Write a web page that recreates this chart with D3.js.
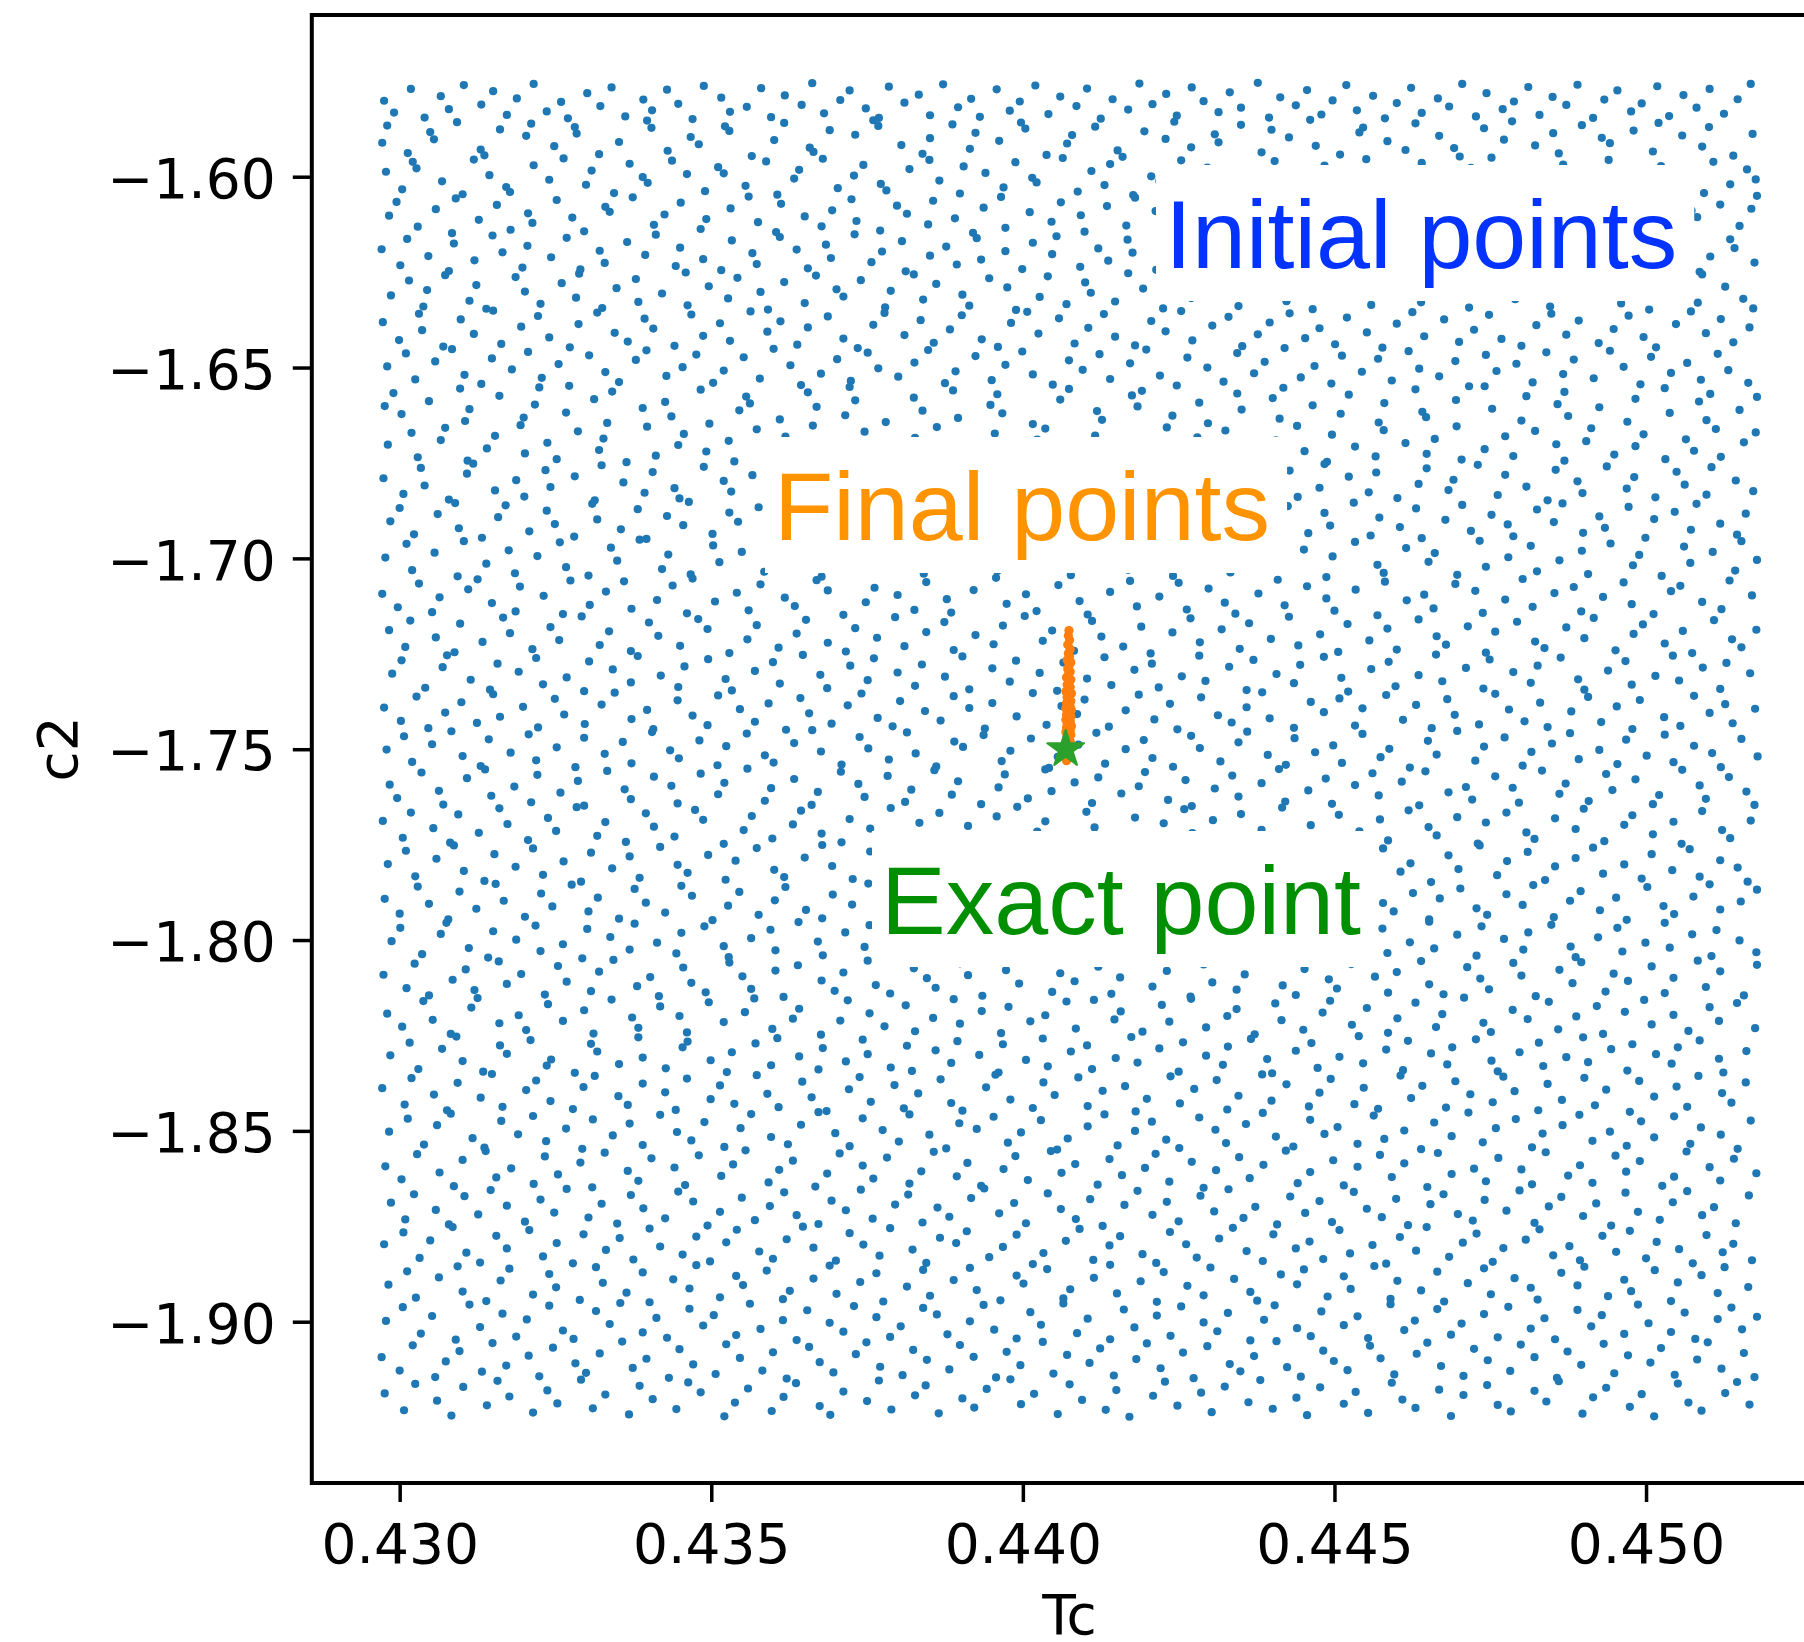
<!DOCTYPE html>
<html>
<head>
<meta charset="utf-8">
<script src="https://cdn.jsdelivr.net/npm/d3@7"></script>
<style>
  html, body { margin: 0; padding: 0; background: #fff; }
  svg { display: block; overflow: hidden; }
</style>
</head>
<body>
<svg id="chart" width="1804" height="1642"></svg>
<script>
// Axis ticks and limits
const tcTicks = [0.430, 0.435, 0.440, 0.445, 0.450];
const c2Ticks = [-1.60, -1.65, -1.70, -1.75, -1.80, -1.85, -1.90];
const tcLimits = [0.42859, 0.45291];
const c2Limits = [-1.55763, -1.94226];

// Reference (exact) parameter values
const exactPoint = { tc: 0.440687, c2: -1.75 };

// Annotation labels, anchored in data coordinates (left edge, baseline)
const labelTexts = ["Initial points", "Final points", "Exact point"];
const labelTc = [0.442281, 0.436007, 0.437724];
const labelC2 = [-1.623919, -1.695185, -1.798416];
const labelColors = ["#0433ff", "#ff9300", "#008f00"];

// Initial sample, flat pairs: Tc in units of 1e-5, |c2| in units of 1e-4
const initialPairs = [
42975,15801,42991,15832,43018,15770,43040,15845,43066,15789,43079,15823,43103,15760,43131,15811,43150,15776,43172,15838,43188,15795,43215,15757,43236,15829,43259,15804,43270,15847,43301,15781,43322,15815,43340,15766,43362,15842,43391,15798,43405,15826,43429,15772,43447,15809,43470,15849,43488,15762,43516,15793,43530,15830,43557,15817,43580,15768,43596,15844,43618,15787,43645,15812,43662,15755,43681,15834,43707,15799,43722,15774,43748,15821,43769,15846,43785,15764,43810,15806,43833,15785,43851,15839,43872,15758,43896,15818,43917,15796,43931,15843,43958,15771,43979,15827,43995,15803,44020,15761,44041,15836,44060,15790,44086,15815,44103,15769,44125,15848,44144,15797,44169,15824,44187,15756,44208,15810,44230,15783,44247,15840,44271,15766,44290,15802,44314,15831,44332,15779,44350,15819,44377,15754,44395,15845,44413,15792,44438,15813,44456,15773,44479,15837,44497,15800,44519,15760,44536,15826,44562,15788,44581,15847,44600,15807,44623,15767,44640,15833,44666,15795,44684,15816,44705,15757,44727,15842,44744,15781,44770,15823,44788,15803,44811,15765,44829,15838,44850,15791,44872,15812,44890,15759,44915,15846,44933,15798,44954,15774,44976,15829,44993,15808,45018,15763,45037,15841,45060,15786,45081,15819,45102,15770,45125,15835,45147,15797,45168,15757,
42972,15911,42980,15866,43013,15938,43049,15883,43055,15902,43092,15857,43130,15929,43136,15944,43161,15876,43203,15893,43211,15861,43248,15920,43281,15870,43284,15887,43320,15941,43352,15909,43397,15853,43404,15872,43430,15932,43467,15896,43480,15915,43522,15868,43529,15880,43565,15946,43601,15904,43617,15859,43658,15924,43664,15935,43690,15878,43731,15890,43760,15852,43768,15867,43805,15917,43839,15940,43851,15899,43887,15863,43915,15927,43924,15885,43962,15906,43997,15858,44004,15874,44038,15943,44071,15913,44079,15891,44116,15869,44152,15931,44160,15948,44195,15881,44229,15901,44243,15856,44270,15923,44308,15889,44314,15910,44350,15864,44383,15936,44399,15877,44427,15897,44461,15851,44470,15919,44509,15942,44540,15884,44546,15871,44585,15907,44614,15930,44630,15860,44668,15893,44692,15925,44701,15947,44740,15873,44772,15903,44785,15855,44822,15918,44851,15886,44860,15939,44897,15865,44929,15898,44942,15912,44980,15879,45011,15934,45020,15859,45058,15892,45090,15921,45101,15870,45140,15945,45171,15888,
42978,15987,43004,16033,43021,15961,43027,15978,43068,16012,43101,16046,43119,15955,43144,15996,43171,16027,43177,16040,43215,15970,43240,16008,43263,15952,43299,16021,43308,15984,43344,16043,43369,15966,43390,16001,43398,16016,43437,15958,43461,15993,43490,16038,43511,15975,43520,15991,43555,16024,43588,15960,43606,16047,43633,16005,43641,15982,43679,15953,43703,16030,43729,15997,43744,15969,43772,16019,43781,16036,43818,15980,43850,15956,43866,16010,43899,16044,43905,15973,43940,15990,43969,16028,43988,15962,44015,16003,44022,16015,44064,15951,44088,16039,44110,15985,44131,16022,44140,15967,44177,16048,44206,15999,44219,16011,44254,15957,44281,16034,44296,15976,44330,16006,44336,15989,44375,16025,44404,15959,44421,16042,44449,15994,44476,16014,44484,15971,44522,16037,44551,15954,44569,16002,44596,15983,44603,16029,44640,15964,44671,16045,44688,16009,44719,15977,44743,16032,44752,15950,44789,16018,44818,15992,44836,16041,44867,15968,44873,16004,44911,16026,44940,15956,44958,15988,44987,16035,45016,16013,45024,15972,45062,15998,45093,16043,45108,15961,45135,16020,45162,15981,45176,16007,
42983,16102,42995,16066,43029,16131,43058,16085,43084,16148,43090,16057,43127,16113,43156,16074,43178,16139,43206,16096,43213,16121,43252,16061,43277,16107,43296,16143,43330,16079,43337,16092,43374,16054,43408,16126,43425,16099,43451,16068,43483,16137,43492,16111,43531,16083,43560,16052,43575,16119,43604,16145,43612,16071,43650,16104,43677,16130,43694,16088,43725,16059,43733,16116,43771,16141,43798,16076,43814,16097,43848,16125,43856,16063,43891,16109,43920,16147,43937,16081,43965,16053,43972,16134,44011,16093,44046,16118,44061,16067,44093,16101,44099,16144,44135,16077,44166,16128,44180,16055,44213,16090,44221,16112,44262,16138,44287,16072,44300,16105,44339,16133,44346,16058,44385,16087,44411,16123,44428,16146,44462,16070,44467,16095,44505,16115,44534,16051,44555,16082,44578,16136,44589,16108,44626,16064,44655,16127,44673,16091,44706,16149,44713,16075,44750,16103,44781,16056,44799,16120,44828,16086,44835,16140,44873,16069,44905,16110,44921,16132,44952,16078,44959,16094,44997,16124,45031,16060,45044,16142,45073,16089,45082,16106,45119,16073,45150,16129,45169,16084,45178,16050,
42971,16190,43001,16232,43012,16163,43046,16208,43079,16247,43087,16175,43120,16219,43149,16154,43165,16198,43197,16238,43205,16181,43243,16211,43268,16160,43290,16243,43321,16194,43329,16226,43365,16171,43394,16205,43411,16152,43443,16234,43450,16186,43487,16216,43516,16245,43533,16167,43566,16200,43573,16229,43610,16158,43637,16191,43655,16240,43684,16178,43692,16213,43730,16151,43757,16224,43774,16196,43806,16169,43812,16248,43851,16207,43877,16183,43894,16230,43926,16161,43933,16217,43972,16195,43999,16242,44016,16173,44047,16203,44054,16156,44092,16236,44121,16188,44137,16220,44168,16165,44176,16199,44214,16244,44240,16176,44258,16210,44289,16155,44297,16233,44335,16192,44363,16221,44379,16170,44410,16246,44417,16202,44455,16159,44483,16227,44500,16185,44531,16214,44538,16239,44577,16166,44603,16197,44620,16231,44652,16153,44659,16180,44697,16218,44724,16241,44741,16174,44772,16206,44780,16162,44818,16228,44845,16189,44862,16245,44893,16157,44900,16212,44938,16193,44966,16235,44983,16168,45014,16201,45021,16223,45060,16179,45086,16249,45103,16209,45135,16164,45142,16187,45174,16225,
42986,16311,43015,16272,43038,16340,43044,16297,43073,16258,43112,16325,43123,16284,43139,16346,43186,16263,43201,16301,43226,16333,43260,16279,43283,16317,43288,16254,43325,16344,43348,16292,43379,16268,43383,16328,43421,16306,43459,16251,43462,16337,43496,16287,43527,16319,43542,16265,43579,16302,43591,16348,43617,16276,43650,16331,43668,16259,43701,16295,43712,16314,43740,16271,43779,16342,43788,16299,43825,16256,43840,16322,43861,16281,43903,16309,43914,16338,43946,16266,43975,16290,43989,16349,44027,16315,44040,16261,44070,16334,44100,16277,44109,16304,44148,16327,44169,16253,44193,16293,44225,16345,44231,16270,44270,16318,44296,16286,44318,16252,44346,16339,44352,16307,44391,16273,44423,16326,44437,16296,44465,16347,44477,16260,44513,16312,44544,16283,44559,16336,44590,16267,44600,16300,44639,16329,44663,16257,44681,16291,44716,16343,44722,16310,44761,16274,44790,16321,44806,16255,44838,16298,44846,16340,44883,16280,44914,16313,44928,16264,44960,16332,44968,16294,45005,16348,45036,16269,45051,16305,45083,16330,45090,16256,45127,16288,45156,16320,45172,16345,
42973,16381,42999,16428,43031,16359,43036,16402,43070,16445,43098,16374,43119,16412,43150,16351,43163,16438,43195,16393,43222,16365,43240,16421,43273,16447,43287,16386,43317,16356,43345,16409,43366,16432,43393,16372,43407,16398,43441,16443,43468,16361,43487,16417,43514,16384,43530,16430,43563,16353,43590,16406,43611,16379,43638,16440,43655,16395,43687,16366,43712,16424,43735,16449,43760,16388,43778,16357,43810,16415,43836,16376,43857,16435,43883,16400,43902,16363,43934,16426,43960,16446,43981,16383,44007,16354,44025,16411,44058,16371,44083,16437,44105,16396,44130,16360,44148,16419,44180,16442,44206,16378,44229,16405,44254,16352,44272,16429,44304,16390,44330,16367,44352,16444,44377,16413,44396,16382,44428,16358,44453,16423,44476,16397,44501,16439,44520,16369,44552,16408,44577,16448,44600,16385,44625,16355,44644,16418,44676,16374,44700,16433,44724,16401,44748,16362,44768,16425,44800,16443,44824,16389,44848,16359,44872,16414,44892,16377,44924,16436,44948,16399,44972,16364,44996,16420,45016,16447,45048,16386,45072,16353,45096,16410,45120,16373,45140,16434,45166,16395,
42980,16497,43010,16463,43025,16531,43057,16484,43084,16452,43104,16519,43131,16543,43148,16476,43180,16505,43206,16459,43228,16527,43255,16491,43272,16548,43304,16468,43330,16512,43352,16538,43379,16480,43396,16455,43428,16522,43454,16499,43476,16466,43503,16540,43520,16508,43552,16473,43578,16529,43600,16451,43627,16494,43644,16546,43676,16516,43702,16478,43724,16535,43751,16461,43768,16502,43800,16524,43826,16487,43848,16454,43875,16541,43892,16510,43924,16470,43950,16533,43972,16493,43999,16458,44016,16518,44048,16545,44074,16481,44096,16506,44123,16465,44140,16530,44172,16489,44198,16453,44220,16521,44247,16547,44264,16474,44296,16500,44322,16537,44344,16462,44371,16515,44388,16485,44420,16449,44446,16526,44468,16496,44495,16542,44512,16469,44544,16511,44570,16477,44592,16534,44619,16457,44636,16503,44668,16523,44694,16483,44716,16549,44743,16467,44760,16509,44792,16490,44818,16539,44840,16460,44867,16517,44884,16479,44916,16528,44942,16456,44964,16498,44991,16544,45008,16472,45040,16514,45066,16488,45088,16532,45115,16464,45132,16507,45164,16540,
42976,16601,42990,16567,43003,16622,43047,16588,43097,16555,43105,16640,43112,16609,43160,16574,43199,16631,43217,16597,43224,16552,43267,16618,43312,16583,43333,16645,43341,16563,43390,16606,43426,16590,43436,16628,43483,16558,43497,16647,43545,16612,43556,16576,43562,16594,43610,16636,43655,16565,43669,16603,43715,16625,43722,16551,43731,16586,43780,16643,43825,16579,43839,16613,43888,16560,43896,16632,43948,16598,43959,16570,43967,16620,44016,16648,44060,16584,44074,16556,44119,16614,44127,16637,44175,16573,44184,16602,44191,16561,44240,16626,44283,16592,44297,16646,44344,16568,44351,16610,44401,16580,44412,16634,44418,16553,44465,16599,44510,16621,44523,16571,44571,16644,44580,16593,44630,16557,44641,16616,44647,16630,44695,16585,44741,16549,44753,16608,44800,16639,44808,16575,44858,16596,44869,16564,44875,16627,44925,16604,44970,16642,44983,16582,45030,16554,45038,16619,45085,16589,45097,16638,45103,16569,45150,16611,45178,16577,
42981,16702,43019,16671,43029,16735,43066,16690,43073,16658,43109,16744,43140,16712,43153,16679,43194,16651,43201,16725,43237,16697,43252,16740,43286,16667,43320,16716,43327,16686,43364,16748,43397,16655,43411,16731,43447,16703,43456,16674,43492,16720,43528,16692,43537,16746,43573,16662,43606,16709,43619,16681,43654,16738,43663,16652,43700,16723,43733,16695,43746,16668,43782,16742,43815,16711,43827,16684,43862,16656,43870,16729,43907,16700,43942,16745,43955,16673,43990,16717,44023,16689,44036,16660,44071,16736,44080,16706,44116,16678,44150,16749,44163,16694,44198,16722,44231,16657,44244,16713,44280,16683,44288,16739,44325,16665,44358,16704,44371,16730,44406,16691,44440,16653,44452,16719,44488,16747,44496,16676,44533,16707,44566,16733,44579,16664,44614,16698,44648,16726,44661,16687,44696,16654,44704,16741,44741,16714,44774,16680,44787,16732,44822,16666,44856,16701,44869,16744,44904,16693,44912,16659,44949,16728,44983,16706,44996,16675,45031,16740,45064,16688,45077,16718,45112,16661,45120,16734,45157,16696,45176,16670,
42974,16790,43006,16831,43034,16763,43040,16809,43079,16846,43108,16778,43118,16752,43153,16822,43187,16795,43200,16838,43234,16769,43242,16813,43281,16785,43313,16848,43324,16756,43359,16801,43393,16828,43406,16774,43441,16816,43449,16843,43488,16760,43520,16797,43532,16825,43566,16782,43600,16751,43613,16835,43648,16806,43656,16771,43695,16819,43727,16844,43739,16788,43773,16758,43807,16830,43820,16799,43855,16767,43863,16841,43902,16811,43934,16779,43946,16826,43980,16754,44014,16803,44027,16847,44062,16784,44070,16818,44109,16765,44141,16836,44153,16793,44187,16757,44221,16823,44234,16776,44269,16808,44277,16845,44316,16789,44348,16762,44360,16832,44394,16800,44428,16770,44441,16839,44476,16815,44484,16753,44523,16786,44555,16827,44567,16775,44601,16842,44635,16805,44648,16764,44683,16821,44691,16794,44730,16755,44762,16834,44774,16781,44808,16812,44842,16848,44855,16768,44890,16798,44898,16829,44937,16759,44969,16817,44981,16787,45015,16840,45049,16773,45062,16807,45097,16833,45105,16761,45144,16796,45172,16824,
42985,16903,43000,16868,43023,16937,43061,16884,43089,16855,43095,16921,43132,16946,43158,16892,43170,16861,43208,16929,43236,16875,43249,16910,43280,16943,43309,16857,43317,16898,43355,16924,43382,16871,43396,16949,43429,16889,43455,16913,43464,16852,43502,16936,43529,16880,43543,16904,43576,16866,43602,16941,43611,16919,43649,16887,43676,16853,43690,16927,43723,16896,43749,16873,43758,16947,43796,16908,43823,16864,43837,16932,43870,16891,43896,16859,43905,16917,43943,16944,43970,16879,43984,16900,44017,16862,44043,16939,44052,16915,44090,16885,44117,16851,44131,16926,44164,16894,44190,16948,44199,16870,44237,16906,44264,16931,44278,16858,44311,16888,44337,16922,44346,16945,44384,16876,44411,16902,44425,16863,44458,16934,44484,16881,44493,16914,44531,16854,44558,16940,44572,16893,44605,16918,44631,16869,44640,16947,44678,16899,44705,16860,44719,16928,44752,16886,44778,16911,44787,16942,44825,16872,44852,16905,44866,16856,44899,16933,44925,16890,44934,16920,44972,16865,44999,16946,45013,16897,45046,16878,45072,16925,45081,16857,45119,16909,45146,16938,45160,16883,
42977,16998,43011,16962,43020,17031,43056,16985,43093,17047,43103,16955,43139,17014,43175,16979,43185,17039,43221,16994,43257,16958,43267,17023,43303,17045,43339,16972,43349,17006,43385,16951,43421,17028,43431,16990,43467,17042,43503,16966,43513,17010,43549,16983,43585,17035,43595,16953,43631,17019,43667,16996,43677,17048,43713,16970,43749,17003,43759,17026,43795,16959,43831,16988,43841,17040,43877,17012,43913,16964,43923,16981,43959,17033,43995,16999,44005,16956,44041,17021,44077,17044,44087,16975,44123,17008,44159,16952,44169,17030,44205,16992,44241,17046,44251,16968,44287,17015,44323,16984,44333,17037,44369,16960,44405,17002,44415,17025,44451,16977,44487,17049,44497,16995,44533,16957,44569,17017,44579,17038,44615,16973,44651,17009,44661,16986,44697,17043,44733,16954,44743,17022,44779,16997,44815,16967,44825,17034,44861,17005,44897,16980,44907,17041,44943,16961,44979,17018,44989,16991,45025,17046,45061,16969,45071,17012,45107,16983,45143,17032,45153,16955,45178,17004,
42972,17093,42997,17128,43031,17066,43052,17141,43064,17102,43110,17081,43125,17055,43148,17117,43186,17139,43193,17074,43231,17098,43262,17146,43274,17058,43305,17122,43331,17087,43360,17060,43372,17132,43413,17109,43438,17071,43461,17144,43470,17053,43506,17113,43541,17090,43560,17136,43579,17068,43618,17103,43634,17125,43669,17057,43687,17084,43712,17148,43748,17115,43762,17077,43799,17096,43826,17135,43845,17062,43878,17107,43885,17142,43921,17083,43957,17051,43974,17119,44005,17094,44022,17138,44057,17070,44091,17112,44104,17147,44140,17088,44172,17059,44183,17126,44219,17100,44250,17064,44263,17134,44298,17079,44324,17116,44341,17145,44378,17092,44409,17056,44420,17123,44456,17073,44487,17105,44500,17137,44534,17082,44569,17149,44581,17061,44616,17110,44644,17095,44659,17131,44694,17067,44726,17085,44738,17143,44774,17108,44802,17054,44818,17127,44853,17091,44884,17075,44896,17139,44931,17101,44964,17063,44977,17120,45012,17146,45040,17086,45055,17072,45090,17114,45121,17133,45134,17058,45170,17097,
42983,17188,43009,17232,43017,17163,43058,17207,43088,17246,43097,17171,43133,17219,43166,17155,43177,17196,43213,17238,43242,17180,43256,17214,43292,17152,43321,17227,43336,17191,43371,17243,43400,17168,43415,17203,43450,17229,43479,17159,43494,17185,43529,17248,43558,17212,43573,17175,43608,17234,43637,17197,43652,17161,43687,17221,43716,17244,43731,17183,43766,17208,43795,17154,43810,17230,43845,17193,43874,17167,43889,17240,43924,17201,43953,17225,43968,17176,44003,17151,44032,17216,44047,17189,44082,17242,44111,17164,44126,17205,44161,17231,44190,17179,44205,17249,44240,17194,44269,17157,44284,17220,44319,17186,44348,17237,44363,17170,44398,17211,44427,17153,44442,17228,44477,17199,44506,17245,44521,17172,44556,17215,44585,17184,44600,17239,44635,17160,44664,17204,44679,17226,44714,17178,44743,17247,44758,17192,44793,17166,44822,17218,44837,17235,44872,17181,44901,17209,44916,17156,44951,17241,44980,17198,44995,17173,45030,17223,45059,17190,45074,17248,45109,17162,45138,17212,45153,17233,45177,17187,
42988,17302,43003,17267,43041,17339,43069,17285,43076,17254,43114,17318,43145,17344,43157,17276,43191,17297,43219,17261,43230,17330,43268,17312,43296,17348,43304,17270,43342,17291,43371,17325,43382,17256,43419,17307,43447,17337,43457,17283,43495,17264,43523,17316,43533,17346,43570,17295,43599,17272,43610,17328,43647,17253,43675,17305,43686,17340,43723,17281,43751,17319,43761,17262,43799,17299,43827,17334,43838,17278,43875,17310,43903,17257,43914,17343,43951,17288,43979,17323,43989,17268,44027,17300,44055,17347,44065,17273,44103,17315,44131,17259,44142,17332,44179,17292,44207,17276,44218,17338,44255,17309,44283,17255,44293,17321,44331,17284,44359,17345,44370,17266,44407,17303,44435,17327,44445,17279,44483,17258,44511,17313,44522,17349,44559,17290,44587,17271,44598,17335,44635,17306,44663,17252,44673,17322,44711,17287,44739,17341,44749,17265,44787,17298,44815,17326,44826,17281,44863,17260,44891,17317,44901,17344,44939,17294,44967,17269,44977,17331,45015,17308,45043,17255,45053,17320,45091,17286,45119,17342,45129,17274,45167,17301,
42975,17391,43002,17426,43027,17362,43046,17445,43073,17404,43099,17377,43124,17431,43150,17356,43161,17415,43198,17389,43222,17443,43249,17368,43264,17409,43297,17434,43324,17383,43345,17352,43372,17421,43397,17397,43407,17447,43446,17372,43470,17412,43494,17437,43511,17359,43546,17395,43570,17428,43592,17380,43620,17449,43643,17366,43657,17406,43693,17433,43719,17385,43741,17354,43767,17418,43791,17440,43803,17374,43843,17400,43868,17425,43889,17361,43914,17392,43939,17446,43951,17379,43990,17414,44016,17353,44038,17436,44062,17387,44087,17408,44099,17370,44138,17441,44165,17398,44186,17357,44211,17422,44236,17381,44248,17448,44286,17364,44313,17411,44335,17430,44359,17390,44384,17351,44396,17419,44435,17444,44462,17376,44483,17403,44508,17367,44533,17438,44545,17393,44583,17358,44610,17423,44631,17384,44656,17445,44681,17369,44693,17410,44732,17435,44758,17355,44780,17396,44805,17427,44830,17378,44842,17442,44880,17401,44907,17363,44928,17429,44953,17388,44978,17447,44990,17371,45029,17416,45055,17439,45077,17360,45102,17405,45127,17382,45139,17432,45175,17394,
42979,17501,43007,17466,43020,17533,43052,17487,43083,17453,43101,17518,43130,17544,43143,17474,43178,17509,43207,17461,43219,17529,43252,17495,43282,17547,43296,17470,43329,17512,43358,17481,43372,17537,43405,17455,43434,17503,43448,17524,43481,17477,43510,17542,43524,17492,43557,17459,43586,17516,43600,17535,43633,17484,43662,17450,43676,17506,43709,17540,43738,17468,43752,17498,43785,17527,43814,17456,43828,17511,43861,17545,43890,17480,43904,17494,43937,17463,43966,17531,43980,17504,44013,17472,44042,17549,44056,17520,44089,17488,44118,17457,44132,17538,44165,17500,44194,17476,44208,17523,44241,17546,44270,17465,44284,17497,44317,17532,44346,17482,44360,17454,44393,17515,44422,17541,44436,17471,44469,17508,44498,17490,44512,17536,44545,17460,44574,17521,44588,17499,44621,17548,44650,17478,44664,17514,44697,17452,44726,17530,44740,17493,44773,17469,44802,17543,44816,17507,44849,17485,44878,17458,44892,17526,44925,17502,44954,17539,44968,17475,45001,17517,45030,17462,45044,17534,45077,17491,45106,17510,45120,17547,45153,17473,45179,17519,
42984,17593,42996,17628,43035,17561,43063,17609,43070,17645,43108,17576,43137,17553,43147,17622,43184,17598,43211,17639,43221,17567,43258,17614,43286,17583,43296,17648,43333,17557,43361,17605,43371,17631,43408,17572,43436,17596,43446,17642,43483,17564,43511,17618,43521,17588,43558,17551,43586,17635,43596,17602,43633,17578,43661,17646,43671,17612,43708,17559,43736,17591,43746,17625,43783,17570,43811,17638,43821,17606,43858,17555,43886,17619,43896,17584,43933,17644,43961,17600,43971,17566,44008,17629,44036,17553,44046,17610,44083,17587,44111,17641,44121,17574,44158,17616,44186,17597,44196,17560,44233,17633,44261,17581,44271,17649,44308,17603,44336,17569,44346,17624,44383,17589,44411,17552,44421,17637,44458,17608,44486,17577,44496,17643,44533,17594,44561,17563,44571,17621,44608,17585,44636,17647,44646,17558,44683,17613,44711,17599,44721,17632,44758,17571,44786,17601,44796,17640,44833,17556,44861,17617,44871,17590,44908,17636,44936,17565,44946,17607,44983,17579,45011,17644,45021,17620,45058,17554,45086,17595,45096,17630,45133,17573,45161,17611,45174,17646,
42973,17688,43005,17732,43018,17666,43054,17707,43081,17745,43094,17671,43127,17719,43160,17655,43173,17696,43206,17738,43238,17680,43251,17714,43284,17652,43317,17727,43330,17691,43363,17743,43395,17668,43408,17703,43441,17729,43474,17659,43487,17685,43520,17748,43552,17712,43565,17675,43598,17734,43631,17697,43644,17661,43677,17721,43709,17744,43722,17683,43755,17708,43788,17654,43801,17730,43834,17693,43866,17667,43879,17740,43912,17701,43945,17725,43958,17676,43991,17651,44023,17716,44036,17689,44069,17742,44102,17664,44115,17705,44148,17731,44180,17679,44193,17749,44226,17694,44259,17657,44272,17720,44305,17686,44337,17737,44350,17670,44383,17711,44416,17653,44429,17728,44462,17699,44494,17745,44507,17672,44540,17715,44573,17684,44586,17739,44619,17660,44651,17704,44664,17726,44697,17678,44730,17747,44743,17692,44776,17666,44808,17718,44821,17735,44854,17681,44887,17709,44900,17656,44933,17741,44965,17698,44978,17673,45011,17723,45044,17690,45057,17748,45090,17662,45122,17712,45135,17733,45168,17687,
42981,17801,43010,17766,43025,17833,43059,17787,43087,17752,43103,17819,43136,17845,43152,17775,43186,17808,43214,17760,43230,17829,43263,17794,43291,17847,43307,17771,43341,17812,43369,17781,43385,17837,43418,17756,43446,17803,43462,17824,43495,17777,43523,17842,43539,17792,43573,17759,43601,17816,43617,17835,43650,17784,43678,17751,43694,17806,43727,17840,43755,17768,43771,17798,43805,17827,43833,17755,43849,17811,43882,17846,43910,17780,43926,17794,43959,17763,43987,17831,44003,17804,44037,17772,44065,17849,44081,17820,44114,17788,44142,17757,44158,17838,44191,17800,44219,17776,44235,17823,44269,17846,44297,17765,44313,17797,44346,17832,44374,17782,44390,17754,44423,17815,44451,17841,44467,17771,44501,17808,44529,17790,44545,17836,44578,17760,44606,17821,44622,17799,44655,17848,44683,17778,44699,17814,44733,17752,44761,17830,44777,17793,44810,17769,44838,17843,44854,17807,44887,17785,44915,17758,44931,17826,44965,17802,44993,17839,45009,17775,45042,17817,45070,17762,45086,17834,45119,17791,45147,17810,45163,17847,
42976,17892,43000,17931,43029,17860,43047,17905,43078,17946,43096,17873,43123,17918,43154,17853,43167,17897,43201,17939,43227,17878,43245,17912,43276,17855,43303,17925,43318,17889,43352,17944,43377,17866,43395,17902,43426,17928,43452,17858,43469,17884,43502,17948,43527,17910,43545,17874,43576,17934,43602,17896,43619,17861,43652,17921,43678,17943,43695,17881,43726,17907,43752,17852,43770,17929,43802,17892,43827,17867,43845,17940,43876,17900,43902,17924,43919,17876,43952,17851,43978,17915,43995,17888,44026,17941,44052,17863,44069,17904,44102,17930,44128,17879,44145,17949,44176,17893,44202,17857,44219,17919,44252,17885,44278,17936,44295,17869,44326,17910,44352,17853,44369,17927,44402,17898,44428,17944,44445,17871,44476,17914,44502,17883,44519,17938,44552,17859,44578,17903,44595,17925,44626,17877,44652,17946,44669,17891,44702,17865,44728,17917,44745,17934,44776,17880,44802,17908,44819,17856,44852,17940,44878,17897,44895,17872,44926,17922,44952,17889,44969,17947,45002,17861,45028,17911,45045,17932,45076,17886,45102,17854,45119,17920,45152,17899,45178,17868,
42987,18003,43001,17968,43036,18037,43066,17984,43075,17955,43111,18021,43142,18046,43150,17977,43187,17999,43218,17962,43226,18029,43262,18011,43293,18048,43301,17971,43338,17992,43369,18025,43377,17957,43413,18007,43444,18035,43452,17981,43489,17964,43520,18016,43528,18045,43564,17995,43595,17973,43603,18027,43640,17953,43671,18004,43679,18040,43715,17980,43746,18018,43754,17961,43791,17998,43822,18033,43830,17976,43866,18010,43897,17957,43905,18043,43942,17987,43973,18022,43981,17967,44017,18000,44048,18047,44056,17972,44093,18015,44124,17959,44132,18031,44168,17991,44199,17975,44207,18038,44244,18008,44275,17954,44283,18021,44319,17983,44350,18044,44358,17966,44395,18003,44426,18026,44434,17978,44470,17958,44501,18013,44509,18049,44546,17989,44577,17970,44585,18034,44621,18006,44652,17952,44660,18022,44697,17986,44728,18041,44736,17964,44772,17997,44803,18025,44811,17980,44848,17960,44879,18017,44887,18045,44923,17993,44954,17968,44962,18030,44999,18007,45030,17955,45038,18020,45074,17985,45105,18042,45113,17974,45150,18001,45177,18032,
42974,18091,43011,18126,43024,18062,43047,18145,43085,18104,43106,18077,43120,18131,43159,18056,43172,18115,43195,18089,43233,18143,43254,18068,43268,18109,43307,18134,43320,18083,43343,18052,43381,18121,43402,18097,43416,18147,43455,18072,43468,18112,43491,18137,43529,18059,43550,18095,43564,18128,43603,18080,43616,18149,43639,18066,43677,18106,43698,18133,43712,18085,43751,18054,43764,18118,43787,18140,43825,18074,43846,18100,43860,18125,43899,18061,43912,18092,43935,18146,43973,18079,43994,18114,44008,18053,44047,18136,44060,18087,44083,18108,44121,18070,44142,18141,44156,18098,44195,18057,44208,18122,44231,18081,44269,18148,44290,18064,44304,18111,44343,18130,44356,18090,44379,18051,44417,18119,44438,18144,44452,18076,44491,18103,44504,18127,44527,18063,44565,18096,44586,18138,44600,18084,44639,18055,44652,18116,44675,18142,44713,18071,44734,18101,44748,18129,44787,18060,44800,18093,44823,18147,44861,18078,44882,18113,44896,18058,44935,18135,44948,18088,44971,18107,45009,18069,45030,18139,45044,18099,45083,18054,45096,18123,45119,18082,45157,18145,45178,18065,
42980,18193,43004,18227,43038,18160,43053,18209,43082,18246,43115,18177,43125,18152,43160,18218,43191,18197,43203,18236,43238,18168,43262,18212,43296,18184,43311,18245,43340,18156,43373,18203,43383,18230,43418,18174,43449,18199,43461,18242,43496,18163,43520,18215,43554,18189,43569,18153,43598,18233,43631,18206,43641,18180,43676,18248,43707,18211,43719,18158,43754,18192,43778,18226,43812,18171,43827,18239,43856,18204,43889,18155,43899,18219,43934,18186,43965,18244,43977,18175,44012,18213,44036,18197,44070,18161,44085,18232,44114,18157,44147,18208,44157,18187,44192,18240,44223,18170,44235,18214,44270,18154,44294,18229,44328,18199,44343,18181,44372,18247,44405,18166,44415,18210,44450,18235,44481,18190,44493,18159,44528,18222,44552,18178,44586,18243,44601,18205,44630,18164,44663,18228,44673,18194,44708,18151,44739,18217,44751,18241,44786,18183,44810,18207,44844,18162,44859,18234,44888,18200,44921,18173,44931,18246,44966,18188,44997,18157,45009,18221,45044,18196,45068,18238,45102,18176,45117,18212,45146,18165,45175,18231,
42985,18302,43016,18269,43030,18338,43068,18285,43091,18253,43101,18317,43134,18345,43161,18276,43172,18298,43210,18262,43236,18329,43243,18313,43281,18348,43307,18272,43317,18292,43352,18325,43383,18255,43390,18308,43427,18336,43454,18281,43462,18266,43499,18315,43525,18346,43533,18294,43571,18271,43596,18328,43606,18257,43641,18305,43672,18339,43679,18283,43716,18318,43743,18261,43751,18299,43788,18334,43814,18277,43822,18343,43860,18289,43885,18322,43895,18265,43930,18301,43961,18347,43968,18273,44005,18314,44032,18258,44040,18331,44077,18292,44103,18276,44111,18338,44149,18309,44174,18254,44184,18321,44219,18284,44250,18345,44257,18268,44294,18303,44321,18327,44329,18279,44366,18259,44392,18312,44400,18349,44438,18290,44463,18270,44473,18335,44508,18306,44539,18252,44546,18323,44583,18287,44610,18341,44618,18264,44655,18297,44681,18326,44689,18281,44727,18260,44752,18316,44762,18344,44797,18294,44828,18269,44835,18330,44872,18307,44899,18255,44907,18320,44944,18286,44970,18342,44978,18273,45016,18299,45041,18324,45051,18281,45086,18263,45117,18311,45124,18347,45161,18291,
42972,18388,43008,18431,43019,18362,43055,18405,43076,18446,43093,18374,43130,18413,43148,18351,43165,18437,43203,18393,43219,18368,43242,18422,43278,18443,43295,18385,43313,18356,43351,18409,43366,18432,43390,18376,43426,18399,43443,18445,43461,18363,43499,18417,43514,18381,43537,18429,43573,18354,43590,18403,43608,18438,43646,18371,43661,18412,43685,18448,43721,18391,43738,18359,43756,18424,43794,18380,43809,18441,43832,18402,43868,18365,43885,18427,43903,18447,43941,18386,43956,18353,43980,18418,44016,18440,44033,18373,44051,18406,44089,18360,44104,18435,44128,18395,44164,18383,44181,18449,44199,18416,44237,18357,44252,18428,44275,18390,44311,18367,44328,18444,44346,18408,44384,18352,44399,18421,44423,18378,44459,18436,44476,18400,44494,18364,44532,18430,44547,18387,44570,18442,44606,18355,44623,18414,44641,18382,44679,18439,44694,18370,44718,18404,44754,18425,44771,18358,44789,18396,44827,18446,44842,18377,44865,18419,44901,18361,44918,18433,44936,18392,44974,18450,44989,18369,45013,18410,45049,18384,45066,18437,45084,18356,45122,18401,45137,18426,45160,18373,
42983,18502,43013,18468,43039,18536,43060,18485,43082,18455,43117,18519,43136,18544,43163,18474,43190,18509,43214,18461,43235,18527,43267,18494,43293,18547,43310,18470,43342,18512,43369,18481,43390,18537,43418,18458,43445,18503,43468,18525,43489,18477,43521,18542,43547,18493,43564,18456,43596,18516,43623,18535,43644,18484,43672,18451,43699,18506,43722,18540,43743,18467,43775,18498,43801,18528,43818,18457,43850,18510,43877,18546,43898,18480,43926,18495,43953,18463,43976,18531,43997,18504,44029,18472,44055,18549,44072,18520,44104,18488,44131,18457,44152,18538,44180,18500,44207,18476,44230,18523,44251,18545,44283,18465,44309,18497,44326,18532,44358,18482,44385,18453,44406,18515,44434,18541,44461,18471,44484,18508,44505,18490,44537,18534,44563,18460,44580,18521,44612,18499,44639,18548,44660,18478,44688,18514,44715,18452,44738,18530,44759,18493,44791,18469,44817,18543,44834,18507,44866,18485,44893,18458,44914,18526,44942,18502,44969,18539,44992,18475,45013,18517,45045,18462,45071,18534,45088,18491,45120,18510,45147,18547,45168,18473,
42977,18593,43003,18627,43028,18561,43064,18609,43087,18645,43101,18576,43138,18553,43155,18622,43179,18598,43215,18639,43233,18567,43254,18614,43290,18583,43309,18648,43329,18557,43366,18605,43383,18631,43404,18572,43441,18596,43458,18642,43480,18564,43516,18618,43535,18588,43555,18551,43592,18635,43609,18602,43631,18578,43667,18646,43686,18612,43706,18559,43743,18591,43760,18625,43782,18570,43818,18638,43837,18606,43857,18555,43894,18619,43911,18584,43933,18644,43969,18600,43988,18566,44008,18629,44045,18553,44062,18610,44084,18587,44120,18641,44139,18574,44159,18616,44196,18597,44213,18560,44235,18633,44271,18581,44290,18649,44310,18603,44347,18569,44364,18624,44386,18589,44422,18552,44441,18637,44461,18608,44498,18577,44515,18643,44537,18594,44573,18563,44592,18621,44612,18585,44649,18647,44666,18558,44688,18613,44724,18599,44743,18632,44763,18571,44800,18601,44817,18640,44839,18556,44875,18617,44894,18590,44914,18636,44951,18565,44968,18607,44990,18579,45026,18644,45045,18620,45065,18554,45102,18595,45119,18630,45141,18573,45177,18611,
42986,18688,43009,18732,43023,18666,43058,18707,43079,18745,43104,18671,43126,18719,43146,18655,43172,18696,43201,18738,43226,18680,43248,18714,43268,18652,43303,18727,43324,18691,43349,18743,43371,18668,43391,18703,43426,18729,43447,18659,43471,18685,43494,18748,43514,18712,43549,18675,43570,18734,43594,18697,43617,18661,43637,18721,43672,18744,43693,18683,43716,18708,43740,18654,43759,18730,43795,18693,43816,18667,43839,18740,43863,18701,43882,18725,43917,18676,43938,18651,43962,18716,43986,18689,44005,18742,44040,18664,44061,18705,44085,18731,44108,18679,44128,18749,44163,18694,44184,18657,44208,18720,44231,18686,44250,18737,44285,18670,44307,18711,44330,18653,44354,18728,44373,18699,44408,18745,44429,18672,44453,18715,44476,18684,44496,18739,44531,18660,44552,18704,44576,18726,44599,18678,44618,18747,44654,18692,44675,18666,44698,18718,44722,18735,44741,18681,44776,18709,44797,18656,44821,18741,44844,18698,44864,18673,44899,18723,44920,18690,44944,18748,44967,18662,44987,18712,45022,18733,45043,18687,45066,18658,45090,18721,45109,18700,45144,18742,45165,18669,
42975,18797,43006,18766,43032,18833,43049,18787,43085,18752,43107,18819,43129,18845,43155,18775,43172,18808,43208,18760,43230,18829,43252,18794,43278,18847,43295,18771,43331,18812,43353,18781,43375,18837,43401,18756,43418,18803,43454,18824,43476,18777,43498,18842,43524,18792,43541,18759,43577,18816,43599,18835,43621,18784,43647,18751,43664,18806,43700,18840,43722,18768,43744,18798,43770,18827,43787,18755,43823,18811,43845,18846,43867,18780,43893,18794,43910,18763,43946,18831,43968,18804,43990,18772,44016,18849,44033,18820,44069,18788,44091,18757,44113,18838,44139,18800,44156,18776,44192,18823,44214,18846,44236,18765,44262,18797,44279,18832,44315,18782,44337,18754,44359,18815,44385,18841,44402,18771,44438,18808,44460,18790,44482,18836,44508,18760,44525,18821,44561,18799,44583,18848,44605,18778,44631,18814,44648,18752,44684,18830,44706,18793,44728,18769,44754,18843,44771,18807,44807,18785,44829,18758,44851,18826,44877,18802,44894,18839,44930,18775,44952,18817,44974,18762,45000,18834,45017,18791,45053,18810,45075,18847,45097,18773,45123,18818,45140,18796,45170,18839,
42982,18903,43012,18868,43026,18937,43063,18884,43093,18855,43101,18921,43139,18946,43162,18892,43176,18861,43214,18929,43240,18875,43251,18910,43289,18943,43315,18857,43326,18898,43364,18924,43390,18871,43401,18949,43439,18889,43465,18913,43476,18852,43514,18936,43540,18880,43551,18904,43589,18866,43615,18941,43626,18919,43664,18887,43690,18853,43701,18927,43739,18896,43765,18873,43776,18947,43814,18908,43840,18864,43851,18932,43889,18891,43915,18859,43926,18917,43964,18944,43990,18879,44001,18900,44039,18862,44065,18939,44076,18915,44114,18885,44140,18851,44151,18926,44189,18894,44215,18948,44226,18870,44264,18906,44290,18931,44301,18858,44339,18888,44365,18922,44376,18945,44414,18876,44440,18902,44451,18863,44489,18934,44515,18881,44526,18914,44564,18854,44590,18940,44601,18893,44639,18918,44665,18869,44676,18947,44714,18899,44740,18860,44751,18928,44789,18886,44815,18911,44826,18942,44864,18872,44890,18905,44901,18856,44939,18933,44965,18890,44976,18920,45014,18865,45040,18946,45051,18897,45089,18878,45115,18925,45126,18857,45164,18909,
42978,18998,43005,18962,43034,19031,43052,18985,43090,19047,43112,18955,43129,19014,43165,18979,43187,19039,43204,18994,43240,18958,43262,19023,43279,19045,43315,18972,43337,19006,43354,18951,43390,19028,43412,18990,43429,19042,43465,18966,43487,19010,43504,18983,43540,19035,43562,18953,43579,19019,43615,18996,43637,19048,43654,18970,43690,19003,43712,19026,43729,18959,43765,18988,43787,19040,43804,19012,43840,18964,43862,18981,43879,19033,43915,18999,43937,18956,43954,19021,43990,19044,44012,18975,44029,19008,44065,18952,44087,19030,44104,18992,44140,19046,44162,18968,44179,19015,44215,18984,44237,19037,44254,18960,44290,19002,44312,19025,44329,18977,44365,19049,44387,18995,44404,18957,44440,19017,44462,19038,44479,18973,44515,19009,44537,18986,44554,19043,44590,18954,44612,19022,44629,18997,44665,18967,44687,19034,44704,19005,44740,18980,44762,19041,44779,18961,44815,19018,44837,18991,44854,19046,44890,18969,44912,19012,44929,18983,44965,19032,44987,18955,45004,19004,45040,19027,45062,18976,45079,19045,45115,18993,45137,18963,45154,19020,45178,18987,
42971,19093,43000,19128,43021,19062,43057,19145,43074,19104,43096,19077,43132,19131,43149,19056,43171,19115,43207,19089,43224,19143,43246,19068,43282,19109,43299,19134,43321,19083,43357,19052,43374,19121,43396,19097,43432,19147,43449,19072,43471,19112,43507,19137,43524,19059,43546,19095,43582,19128,43599,19080,43621,19149,43657,19066,43674,19106,43696,19133,43732,19085,43749,19054,43771,19118,43807,19140,43824,19074,43846,19100,43882,19125,43899,19061,43921,19092,43957,19146,43974,19079,43996,19114,44032,19053,44049,19136,44071,19087,44107,19108,44124,19070,44146,19141,44182,19098,44199,19057,44221,19122,44257,19081,44274,19148,44296,19064,44332,19111,44349,19130,44371,19090,44407,19051,44424,19119,44446,19144,44482,19076,44499,19103,44521,19127,44557,19063,44574,19096,44596,19138,44632,19084,44649,19055,44671,19116,44707,19142,44724,19071,44746,19101,44782,19129,44799,19060,44821,19093,44857,19147,44874,19078,44896,19113,44932,19058,44949,19135,44971,19088,45007,19107,45024,19069,45046,19139,45082,19099,45099,19054,45121,19123,45157,19082,45174,19145,
42976,19188,43007,19232,43025,19163,43060,19207,43083,19246,43102,19171,43140,19219,43157,19155,43176,19196,43214,19238,43237,19180,43253,19214,43291,19152,43310,19227,43330,19191,43368,19243,43385,19168,43406,19203,43444,19229,43463,19159,43483,19185,43521,19248,43538,19212,43559,19175,43597,19234,43616,19197,43636,19161,43674,19221,43691,19244,43712,19183,43750,19208,43769,19154,43789,19230,43827,19193,43844,19167,43865,19240,43903,19201,43922,19225,43942,19176,43980,19151,43997,19216,44018,19189,44056,19242,44075,19164,44095,19205,44133,19231,44150,19179,44171,19249,44209,19194,44228,19157,44248,19220,44286,19186,44303,19237,44324,19170,44362,19211,44381,19153,44401,19228,44439,19199,44456,19245,44477,19172,44515,19215,44534,19184,44554,19239,44592,19160,44609,19204,44630,19226,44668,19178,44687,19247,44707,19192,44745,19166,44762,19218,44783,19235,44821,19181,44840,19209,44860,19156,44898,19241,44915,19198,44936,19173,44974,19223,44993,19190,45013,19248,45051,19162,45068,19212,45089,19233,45127,19187,45146,19158,45166,19217
];

// Final (converged) points, same encoding
const finalPairs = [
44074,17189,44073,17203,44075,17214,44072,17226,44076,17238,44073,17249,44075,17258,44071,17266,44077,17273,44074,17281,
44072,17290,44076,17297,44073,17305,44070,17312,44077,17318,44074,17324,44071,17331,44076,17337,44073,17343,44069,17349,
44078,17354,44075,17359,44071,17364,44074,17369,44077,17374,44070,17379,44073,17383,44076,17388,44069,17393,44078,17397,
44072,17401,44075,17406,44070,17410,44077,17414,44073,17418,44069,17423,44076,17427,44071,17431,44074,17435,44078,17439,
44070,17443,44073,17447,44076,17451,44069,17455,44072,17459,44077,17463,44071,17467,44074,17471,44070,17475,44076,17479,
44072,17483,44069,17487,44075,17491,44071,17495,44073,17499,44070,17504,44074,17509,44071,17515,44072,17522,44070,17530
];

function decodePairs(flat) {
  const pts = [];
  for (let i = 0; i < flat.length; i += 2) {
    pts.push({ tc: flat[i] / 1e5, c2: -flat[i + 1] / 1e4 });
  }
  return pts;
}
const initialPoints = decodePairs(initialPairs);
const finalPoints = decodePairs(finalPairs);

const svg = d3.select("#chart");
const x = d3.scaleLinear().domain(tcLimits).range([311.8, 1827.4]);
const y = d3.scaleLinear().domain(c2Limits).range([15, 1483]);

const tickFont = "'DejaVu Sans', 'Bitstream Vera Sans', sans-serif";

// Scatter layers
svg.append("g").selectAll("circle").data(initialPoints).join("circle")
  .attr("cx", d => x(d.tc)).attr("cy", d => y(d.c2))
  .attr("r", 4.1).attr("fill", "#1f77b4");

svg.append("g").selectAll("circle").data(finalPoints).join("circle")
  .attr("cx", d => x(d.tc)).attr("cy", d => y(d.c2))
  .attr("r", 4.6).attr("fill", "#ff7f0e");

svg.append("path")
  .attr("d", d3.symbol(d3.symbolStar, 420)())
  .attr("transform", `translate(${x(exactPoint.tc)},${y(exactPoint.c2)})`)
  .attr("fill", "#2ca02c").attr("stroke", "#2ca02c")
  .attr("stroke-width", 2).attr("stroke-linejoin", "round");

// Annotation labels on white boxes
const labelLayer = svg.append("g");
labelTexts.forEach((t, i) => {
  const g = labelLayer.append("g");
  const rect = g.append("rect").attr("fill", "#ffffff");
  const txt = g.append("text")
    .attr("x", x(labelTc[i])).attr("y", y(labelC2[i]))
    .attr("font-family", "'Liberation Sans', Arial, Helvetica, sans-serif")
    .attr("font-size", 97)
    .attr("fill", labelColors[i])
    .text(t);
  const bb = txt.node().getBBox();
  rect.attr("x", bb.x - 9).attr("y", bb.y - 15)
    .attr("width", bb.width + 26).attr("height", bb.height + 27);
});

// Axes
const yAxis = d3.axisLeft(y).tickValues(c2Ticks).tickFormat(d3.format(".2f"))
  .tickSize(19).tickPadding(17);
const gy = svg.append("g").attr("transform", `translate(${x.range()[0]},0)`).call(yAxis);
gy.select(".domain").remove();
gy.attr("font-family", tickFont).attr("font-size", 55);
gy.selectAll(".tick line").attr("stroke", "#000").attr("stroke-width", 3.5);
gy.selectAll(".tick text").attr("fill", "#000").attr("dy", "0.375em");

const xAxis = d3.axisBottom(x).tickValues(tcTicks).tickFormat(d3.format(".3f"))
  .tickSize(19).tickPadding(22);
const gx = svg.append("g").attr("transform", `translate(0,${y.range()[1]})`).call(xAxis);
gx.select(".domain").remove();
gx.attr("font-family", tickFont).attr("font-size", 55);
gx.selectAll(".tick line").attr("stroke", "#000").attr("stroke-width", 3.5);
gx.selectAll(".tick text").attr("fill", "#000");

// Frame
const [x0, x1] = x.range();
const [y0, y1] = y.range();
const frame = svg.append("g").attr("stroke", "#000").attr("stroke-width", 4)
  .attr("stroke-linecap", "square").attr("fill", "none");
frame.append("rect").attr("x", x0).attr("y", y0).attr("width", x1 - x0).attr("height", y1 - y0);

// Axis titles
svg.append("text")
  .attr("x", (x0 + x1) / 2).attr("y", 1634)
  .attr("text-anchor", "middle")
  .attr("font-family", tickFont).attr("font-size", 55).attr("fill", "#000")
  .text("Tc");

svg.append("text")
  .attr("transform", `translate(77,${(y0 + y1) / 2}) rotate(-90)`)
  .attr("text-anchor", "middle")
  .attr("font-family", tickFont).attr("font-size", 55).attr("fill", "#000")
  .text("c2");
</script>
</body>
</html>
